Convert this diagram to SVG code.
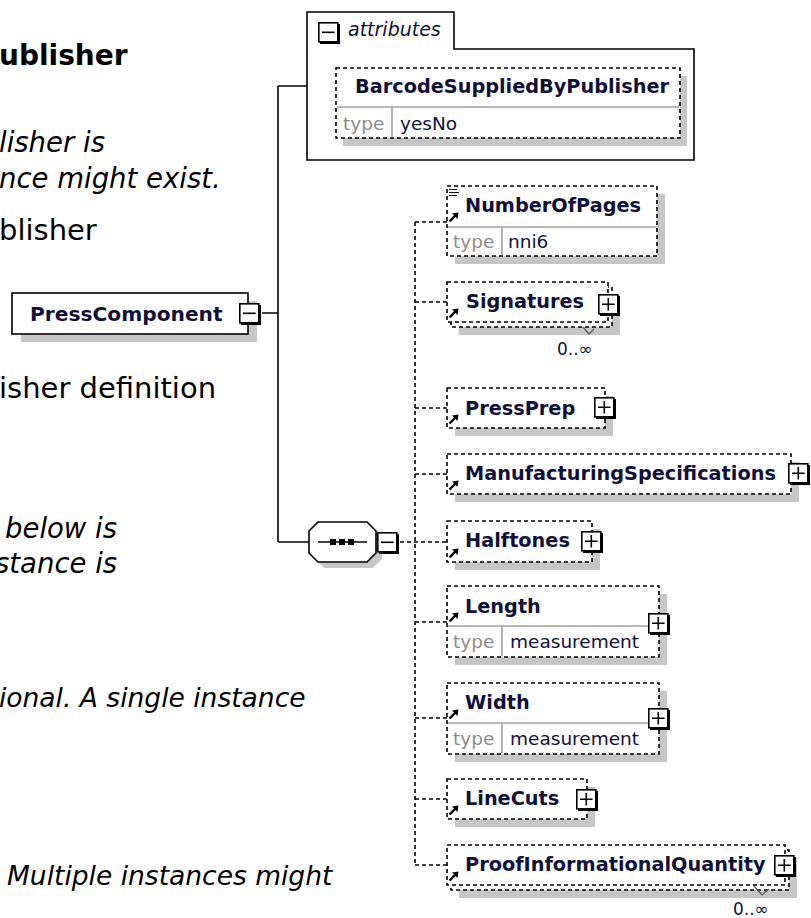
<svg xmlns="http://www.w3.org/2000/svg" width="811" height="918" viewBox="0 0 811 918">
<style>
.doc{font-family:"DejaVu Sans",Verdana,sans-serif;font-size:29px;fill:#000}
.b{font-weight:bold;font-size:28px}
.i{font-style:italic;font-size:27.5px}
.i2{font-style:italic;font-size:26.5px}
.name{font-family:"DejaVu Sans",Verdana,sans-serif;font-weight:bold;font-size:19.3px;fill:#10103c}
.ital{font-family:"DejaVu Sans",Verdana,sans-serif;font-style:italic;font-size:19px;fill:#10103c}
.type{font-family:"DejaVu Sans",Verdana,sans-serif;font-size:18.5px;fill:#8c8c8c}
.tval{font-family:"DejaVu Sans",Verdana,sans-serif;font-size:18.5px;fill:#10103c}
.occ{font-family:"DejaVu Sans",Verdana,sans-serif;font-size:17px;fill:#10103c}
.box{fill:#fff;stroke:#000;stroke-width:1.6;stroke-dasharray:4 3}
.sbox{fill:#fff;stroke:#000;stroke-width:1.6}
.shadow{fill:#c6c6c6}
.conn{fill:none;stroke:#000;stroke-width:1.6;stroke-dasharray:4 3}
.solid{fill:none;stroke:#000;stroke-width:1.6}
.sep{stroke:#a0a0a0;stroke-width:1.6}
</style>
<defs>
<g id="plus"><rect x="2" y="2" width="20" height="20" fill="#000"/><rect x="0.8" y="0.8" width="19" height="19" fill="#fff" stroke="#000" stroke-width="1.6"/><path d="M4,10.3H16.6M10.3,4V16.6" stroke="#000" stroke-width="1.6"/></g>
<g id="minus"><rect x="2" y="2" width="20" height="20" fill="#000"/><rect x="0.8" y="0.8" width="19" height="19" fill="#fff" stroke="#000" stroke-width="1.6"/><path d="M4,10.3H16.6" stroke="#000" stroke-width="1.6"/></g>
<g id="ref"><path d="M1.5,10.5L7.5,4.5" stroke="#000" stroke-width="2.4"/><polygon points="10.5,1.5 4,2.5 9.5,8" fill="#000"/></g>
</defs>

<g id="document-text">
<text class="doc b" x="-1" y="65">ublisher</text>
<text class="doc i" x="-1" y="152">lisher is</text>
<text class="doc i" x="-1" y="188">nce might exist.</text>
<text class="doc" x="-1" y="240">blisher</text>
<text class="doc" x="-1" y="398">isher definition</text>
<text class="doc i" x="5" y="538">below is</text>
<text class="doc i" x="-5" y="573">stance is</text>
<text class="doc i2" x="-1" y="707">ional. A single instance</text>
<text class="doc i2" x="7" y="885">Multiple instances might</text>
</g>

<g id="connectors">
<path class="solid" d="M262,313H278M278,86V542M278,86H307M278,542H309"/>
<path class="conn" d="M415,222V865"/>
<path class="conn" d="M400,542H447"/>
<path class="conn" d="M415,222H447M415,302H447M415,408H447M415,474H447M415,622H447M415,718H447M415,799H447M415,865H447"/>
</g>

<g id="PressComponent">
<rect class="shadow" x="21" y="301" width="236" height="41"/>
<rect class="sbox" x="12" y="293" width="236" height="41"/>
<text class="name" x="30" y="321" style="font-size:20.2px">PressComponent</text>
<use href="#minus" x="239" y="303"/>
</g>

<g id="attributes">
<path class="sbox" d="M307,12H454V49H694V160H307Z"/>
<use href="#minus" x="318" y="22"/>
<text class="ital" x="348" y="36">attributes</text>
<g id="BarcodeSuppliedByPublisher">
<rect class="shadow" x="343" y="76" width="344" height="70"/>
<rect class="box" x="336" y="68" width="344" height="70"/>
<line class="sep" x1="337" y1="107" x2="679" y2="107"/>
<line class="sep" x1="392" y1="107" x2="392" y2="137"/>
<text class="name" x="355" y="93">BarcodeSuppliedByPublisher</text>
<text class="type" x="343" y="130">type</text>
<text class="tval" x="400" y="130">yesNo</text>
</g>
</g>

<g id="sequence">
<polygon class="shadow" points="324,528 373,528 382,537 382,559 373,568 324,568 315,559 315,537"/>
<polygon class="sbox" points="318,522 367,522 376,531 376,553 367,562 318,562 309,553 309,531"/>
<path d="M318,542H367" stroke="#000" stroke-width="1.6"/>
<rect x="330" y="539" width="6" height="6" fill="#000"/>
<rect x="339" y="539" width="6" height="6" fill="#000"/>
<rect x="348" y="539" width="6" height="6" fill="#000"/>
<use href="#minus" x="377" y="532"/>
</g>

<g id="NumberOfPages">
<rect class="shadow" x="455" y="194" width="210" height="70"/>
<rect class="box" x="447" y="186" width="210" height="70"/>
<line class="sep" x1="448" y1="227" x2="656" y2="227"/>
<line class="sep" x1="502" y1="227" x2="502" y2="255"/>
<path d="M449,189.5h8M449,192.5h10M449,195.5h8" stroke="#000" stroke-width="1.2"/>
<use href="#ref" x="448" y="211"/>
<text class="name" x="465" y="212">NumberOfPages</text>
<text class="type" x="453" y="248">type</text>
<text class="tval" x="508" y="248">nni6</text>
</g>

<g id="Signatures">
<rect class="shadow" x="459" y="295" width="161" height="40"/>
<rect class="box" x="451" y="287" width="161" height="40"/>
<rect class="box" x="447" y="282" width="161" height="40"/>
<use href="#ref" x="448" y="307"/>
<text class="name" x="466" y="308">Signatures</text>
<use href="#plus" x="598" y="294"/>
<path d="M583,327L589,334L594,329" fill="none" stroke="#555" stroke-width="1.2"/>
<text class="occ" x="557" y="355">0..∞</text>
</g>

<g id="PressPrep">
<rect class="shadow" x="455" y="396" width="158" height="40"/>
<rect class="box" x="447" y="388" width="158" height="40"/>
<use href="#ref" x="448" y="413"/>
<text class="name" x="465" y="415">PressPrep</text>
<use href="#plus" x="594" y="397"/>
</g>

<g id="ManufacturingSpecifications">
<rect class="shadow" x="455" y="462" width="344" height="40"/>
<rect class="box" x="447" y="454" width="344" height="40"/>
<use href="#ref" x="448" y="479"/>
<text class="name" x="465" y="480">ManufacturingSpecifications</text>
<use href="#plus" x="788" y="463"/>
</g>

<g id="Halftones">
<rect class="shadow" x="455" y="529" width="145" height="41"/>
<rect class="box" x="447" y="521" width="145" height="41"/>
<use href="#ref" x="448" y="547"/>
<text class="name" x="465" y="547">Halftones</text>
<use href="#plus" x="581" y="531"/>
</g>

<g id="Length">
<rect class="shadow" x="455" y="594" width="212" height="71"/>
<rect class="box" x="447" y="586" width="212" height="71"/>
<line class="sep" x1="448" y1="626" x2="658" y2="626"/>
<line class="sep" x1="502" y1="626" x2="502" y2="656"/>
<use href="#ref" x="448" y="611"/>
<text class="name" x="465" y="613">Length</text>
<text class="type" x="453" y="648">type</text>
<text class="tval" x="510" y="648">measurement</text>
<use href="#plus" x="648" y="613"/>
</g>

<g id="Width">
<rect class="shadow" x="455" y="691" width="212" height="71"/>
<rect class="box" x="447" y="683" width="212" height="71"/>
<line class="sep" x1="448" y1="723" x2="658" y2="723"/>
<line class="sep" x1="502" y1="723" x2="502" y2="753"/>
<use href="#ref" x="448" y="708"/>
<text class="name" x="465" y="709">Width</text>
<text class="type" x="453" y="745">type</text>
<text class="tval" x="510" y="745">measurement</text>
<use href="#plus" x="648" y="708"/>
</g>

<g id="LineCuts">
<rect class="shadow" x="455" y="787" width="140" height="40"/>
<rect class="box" x="447" y="779" width="140" height="40"/>
<use href="#ref" x="448" y="804"/>
<text class="name" x="465" y="805">LineCuts</text>
<use href="#plus" x="576" y="789"/>
</g>

<g id="ProofInformationalQuantity">
<rect class="shadow" x="459" y="858" width="338" height="40"/>
<rect class="box" x="451" y="850" width="338" height="40"/>
<rect class="box" x="447" y="845" width="338" height="40"/>
<use href="#ref" x="448" y="870"/>
<text class="name" x="465" y="871">ProofInformationalQuantity</text>
<use href="#plus" x="774" y="855"/>
<path d="M754,886L762,895L769,889" fill="none" stroke="#555" stroke-width="1.2"/>
<text class="occ" x="733" y="915">0..∞</text>
</g>
</svg>
